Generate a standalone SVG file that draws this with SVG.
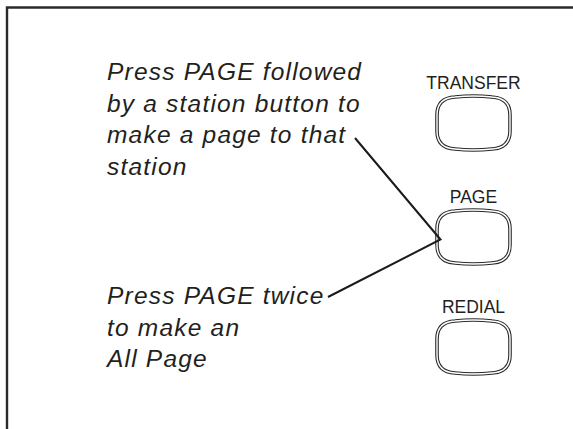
<svg xmlns="http://www.w3.org/2000/svg" xmlns:xlink="http://www.w3.org/1999/xlink" width="573" height="429" viewBox="0 0 573 429">
<style>
.frame{fill:none;stroke:#2b2b2b;stroke-width:2.4}
.note{font-family:"Liberation Sans",Arial,sans-serif;font-style:italic;font-size:24.5px;letter-spacing:1.2px;fill:#231f20}
.lbl{font-family:"Liberation Sans",Arial,sans-serif;font-size:17.5px;fill:#231f20;text-anchor:middle}
.outer{fill:#fff;stroke:#2b2b2b;stroke-width:3.6}
.inner{fill:none;stroke:#fff;stroke-width:1.4}
.conn{fill:none;stroke:#1a1a1a;stroke-width:2;stroke-linejoin:miter}
</style>
<defs>
<path id="btn" d="M 18 0 Q 36.5 -2 55 0 Q 73 1 73 18 L 73 34 Q 73 51 55 52 Q 36.5 54 18 52 Q 0 51 0 34 L 0 18 Q 0 1 18 0 Z"/>
</defs>
<rect width="573" height="429" fill="#fff"/>
<path class="frame" d="M 7 429 L 7 7.5 L 573 7.5"/>

<g id="note-station">
<text class="note" x="107" y="80">Press PAGE followed</text>
<text class="note" x="107" y="111.5">by a station button to</text>
<text class="note" x="107" y="143">make a page to that</text>
<text class="note" x="107" y="174.5">station</text>
</g>

<g id="note-allpage">
<text class="note" x="107" y="304">Press PAGE twice</text>
<text class="note" x="107" y="335.5">to make an</text>
<text class="note" x="107" y="367">All Page</text>
</g>

<g id="transfer">
<text class="lbl" x="473.5" y="89">TRANSFER</text>
<use xlink:href="#btn" class="outer" transform="translate(437,97)"/>
<use xlink:href="#btn" class="inner" transform="translate(437,97)"/>
</g>

<g id="page">
<text class="lbl" x="473.5" y="203">PAGE</text>
<use xlink:href="#btn" class="outer" transform="translate(437,211)"/>
<use xlink:href="#btn" class="inner" transform="translate(437,211)"/>
</g>

<g id="redial">
<text class="lbl" x="473.5" y="313">REDIAL</text>
<use xlink:href="#btn" class="outer" transform="translate(437,321)"/>
<use xlink:href="#btn" class="inner" transform="translate(437,321)"/>
</g>

<g id="connectors">
<path class="conn" d="M 355 138 L 440.5 239.5 L 328 297"/>
</g>
</svg>
